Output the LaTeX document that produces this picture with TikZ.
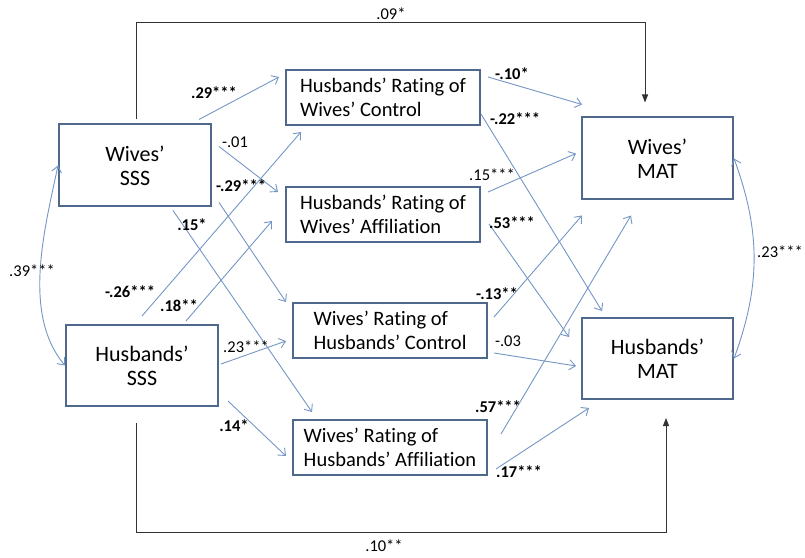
\documentclass[tikz,border=0pt]{standalone}
\usepackage{fontspec}
\setmainfont[Ligatures=NoCommon]{Carlito}
\usepackage{tikz}
\usetikzlibrary{arrows.meta,calc}
\definecolor{BoxBlue}{RGB}{79,105,140}
\definecolor{PathBlue}{RGB}{116,150,196}

\tikzset{
  varbox/.style={draw=BoxBlue,line width=2pt,minimum width=152pt,minimum height=82pt,
    inner sep=0pt,align=center,font=\fontsize{22}{24}\selectfont},
  ratebox/.style={draw=BoxBlue,line width=2pt,minimum width=194pt,minimum height=55pt,
    inner sep=0pt,align=left,font=\fontsize{20.5}{23.5}\selectfont},
  bluearrow/.style={draw=PathBlue,line width=0.9pt,-{Straight Barb[length=6pt,width=10pt]}},
  covarrow/.style={draw=PathBlue,line width=0.9pt,
    {Straight Barb[length=6pt,width=10pt]}-{Straight Barb[length=6pt,width=10pt]}},
  directarrow/.style={draw=black!80,line width=1pt,-{Triangle[length=8pt,width=6pt]}},
  coefbold/.style={inner sep=0pt,font=\fontsize{16.5}{18}\selectfont\bfseries},
  coefplain/.style={inner sep=0pt,font=\fontsize{16.5}{18}\selectfont}
}

\begin{document}
\begin{tikzpicture}[x=1pt,y=1pt]
  \useasboundingbox (0,0) rectangle (805,557);

  % predictors and outcomes
  \node[varbox] (wsss) at (135,391.5) {Wives’\\SSS};
  \node[varbox,minimum height=81pt] (hsss) at (142,191.5) {Husbands’\\SSS};
  \node[varbox,minimum width=151pt] (wmat) at (657.5,398.5) {Wives’\\MAT};
  \node[varbox,minimum width=151pt,minimum height=81pt] (hmat) at (657.5,198.5) {Husbands’\\MAT};

  % mediators
  \node[ratebox] (hrwc) at (383,459.5) {Husbands’ Rating of\\Wives’ Control};
  \node[ratebox] (hrwa) at (383,342.5) {Husbands’ Rating of\\Wives’ Affiliation};
  \node[ratebox] (wrhc) at (390,226.5) {Wives’ Rating of\\Husbands’ Control};
  \node[ratebox] (wrha) at (390,109.5) {Wives’ Rating of\\Husbands’ Affiliation};

  % direct paths
  \draw[directarrow] ($(wsss.north)+(1,4)$) |- ($(wmat.north)+(-12.5,94)$) -- ($(wmat.north)+(-12.5,14)$);
  \draw[directarrow] ($(hsss.south)+(-6,-16)$) |- ($(hmat.south)+(8.5,-132)$) -- ($(hmat.south)+(8.5,-18)$);
  \node[coefplain] (dwife) at (391,543) {.09*};
  \node[coefplain] (dhusb) at (384,11) {.10**};

  % covariances
  \draw[covarrow] (wsss.west) to[out=258,in=130,looseness=0.85] (hsss.west);
  \draw[covarrow] (wmat.east) to[out=-70,in=70] (hmat.east);
  \node[coefplain] (csss) at (32,286) {.39***};
  \node[coefplain] (cmat) at (780,305) {.23***};

  % SSS to ratings
  \draw[bluearrow] ($(wsss.north east)+(-13,4)$) -- ($(hrwc.north west)+(-6,-8)$);
  \draw[bluearrow] ($(wsss.north east)+(7,-23)$) -- ($(hrwa.north west)+(-7,-6)$);
  \draw[bluearrow] ($(wsss.south east)+(7,5)$) -- ($(wrhc.north west)+(-6,0)$);
  \draw[bluearrow] ($(wsss.south east)+(-39,-3)$) -- ($(wrha.north west)+(20,7)$);
  \draw[bluearrow] ($(hsss.north west)+(77,8)$) -- ($(hrwc.south west)+(16,-6)$);
  \draw[bluearrow] ($(hsss.north east)+(-33,3)$) -- ($(hrwa.south west)+(-13,22)$);
  \draw[bluearrow] ($(hsss.north east)+(2,-40)$) -- ($(wrhc.south west)+(-6,18)$);
  \draw[bluearrow] ($(hsss.south east)+(9,6)$) -- ($(wrha.south west)+(-6,20)$);
  \node[coefbold] (ahrwc) at (214,464) {.29***};
  \node[coefplain] (ahrwa) at (235,415) {-.01};
  \node[coefbold] (awrhc) at (241,371) {-.29***};
  \node[coefbold] (awrha) at (192,332) {.15*};
  \node[coefbold] (bhrwc) at (130,265) {-.26***};
  \node[coefbold] (bhrwa) at (179,251) {.18**};
  \node[coefplain] (bwrhc) at (246,210) {.23***};
  \node[coefbold] (bwrha) at (234,131) {.14*};

  % ratings to MAT
  \draw[bluearrow] ($(hrwc.north east)+(7,-8)$) -- ($(wmat.north west)+(1,12)$);
  \draw[bluearrow] ($(hrwc.south east)+(0,12)$) -- ($(hmat.north west)+(21,6)$);
  \draw[bluearrow] ($(hrwa.north east)+(7,-6)$) -- ($(wmat.south west)+(-5,47)$);
  \draw[bluearrow] ($(hrwa.south east)+(8,19)$) -- ($(hmat.north west)+(-12,-20)$);
  \draw[bluearrow] ($(wrhc.north east)+(6,-15)$) -- ($(wmat.south west)+(1,-15)$);
  \draw[bluearrow] ($(wrhc.south east)+(6,6)$) -- ($(hmat.north west)+(-5,-49)$);
  \draw[bluearrow] ($(wrha.north east)+(13,-15)$) -- ($(wmat.south west)+(50,-15)$);
  \draw[bluearrow] ($(wrha.south east)+(8,7)$) -- ($(hmat.south west)+(8,-8)$);
  \node[coefbold] (chrwc) at (512,483) {-.10*};
  \node[coefbold] (dhrwc) at (515,438) {-.22***};
  \node[coefplain] (chrwa) at (492,382) {.15***};
  \node[coefbold] (dhrwa) at (512,334) {.53***};
  \node[coefbold] (cwrhc) at (497,263) {-.13**};
  \node[coefplain] (dwrhc) at (508,216) {-.03};
  \node[coefbold] (cwrha) at (498,150) {.57***};
  \node[coefbold] (dwrha) at (519,85) {.17***};
\end{tikzpicture}
\end{document}
